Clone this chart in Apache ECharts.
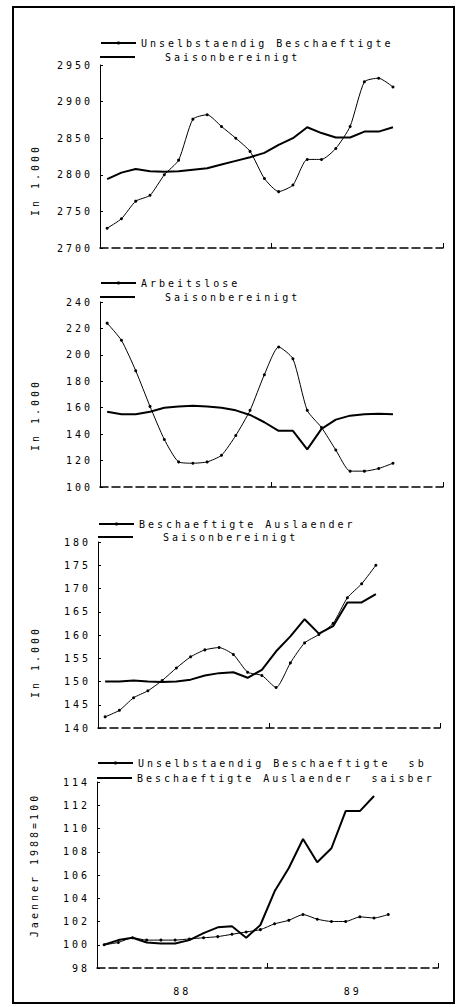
<!DOCTYPE html>
<html><head><meta charset="utf-8">
<script src="https://cdn.jsdelivr.net/npm/echarts@6/dist/echarts.min.js"></script>
<style>
html,body{margin:0;padding:0;background:#fff;}
#c{width:457px;height:1007px;letter-spacing:3px;white-space:pre;}
</style></head><body><div id="c"></div>
<script>
// Monthly data, January 1988 onwards
const months = ['Jan 88','Feb 88','Mar 88','Apr 88','May 88','Jun 88','Jul 88','Aug 88','Sep 88','Oct 88','Nov 88','Dec 88',
                'Jan 89','Feb 89','Mar 89','Apr 89','May 89','Jun 89','Jul 89','Aug 89','Sep 89','Oct 89','Nov 89','Dec 89'];
const yearLabels = ['88','89'];

// Panel 1: Unselbstaendig Beschaeftigte (in 1.000)
const p1Names = ['Unselbstaendig Beschaeftigte','Saisonbereinigt'];
const p1Raw = [2727,2740,2764,2772,2800,2820,2876,2882,2866,2850,2832,2795,2777,2786,2821,2821,2836,2866,2927,2932,2920];
const p1Sa  = [2794,2803,2808,2805,2804,2805,2807,2809,2814,2819,2824,2830,2841,2850,2865,2857,2851,2851,2859,2859,2865];
const p1Ticks = [2700,2950,50];

// Panel 2: Arbeitslose (in 1.000)
const p2Names = ['Arbeitslose','Saisonbereinigt'];
const p2Raw = [224,211,188,161,136,119,118,119,124,139,158,185,206,197,158,145,128,112,112,114,118];
const p2Sa  = [157,155,155,157,160,161,161.5,161,160,158,154.5,149,142.5,142.5,128.5,144,151,154,155,155.5,155];
const p2Ticks = [100,240,20];

// Panel 3: Beschaeftigte Auslaender (in 1.000)
const p3Names = ['Beschaeftigte Auslaender','Saisonbereinigt'];
const p3Raw = [142.4,143.8,146.5,148,150.2,152.9,155.3,156.8,157.3,155.8,152,151.3,148.7,154,158.3,160.1,162.5,168,171,175];
const p3Sa  = [150,150,150.2,150,149.9,150,150.4,151.3,151.8,152,150.8,152.5,156.5,159.7,163.4,160.3,161.9,167,167,168.8];
const p3Ticks = [140,180,5];

// Panel 4: Index, Jaenner 1988 = 100
const p4Names = ['Unselbstaendig Beschaeftigte  sb','Beschaeftigte Auslaender  saisber'];
const p4Emp = [100,100.2,100.6,100.4,100.4,100.4,100.5,100.6,100.7,100.9,101.1,101.3,101.8,102.1,102.6,102.2,102,102,102.4,102.3,102.6];
const p4For = [100,100.4,100.6,100.2,100.1,100.1,100.4,101,101.5,101.6,100.6,101.7,104.6,106.6,109.1,107.1,108.3,111.5,111.5,112.8];
const p4Ticks = [98,114,2];

const yNames = ['In 1.000','In 1.000','In 1.000','Jaenner 1988=100'];

const FONT = 'DejaVu Sans Mono';
const panels = [
  {names:p1Names, a:p1Raw, b:p1Sa, t:p1Ticks, grid:{left:100,top:65,width:343,height:183}, leg:[43,57], pad:25, namePad:[0,47,0,0], nameGap:60},
  {names:p2Names, a:p2Raw, b:p2Sa, t:p2Ticks, grid:{left:100,top:302,width:343,height:185}, leg:[283,297], pad:25, namePad:[0,41,0,0], nameGap:60},
  {names:p3Names, a:p3Raw, b:p3Sa, t:p3Ticks, grid:{left:98,top:542,width:342,height:186}, leg:[524,537], pad:25, namePad:[0,54,0,0], nameGap:58},
  {names:p4Names, a:p4Emp, b:p4For, t:p4Ticks, grid:{left:97,top:782,width:341,height:186}, leg:[763,778], pad:0, namePad:[0,0,0,20], nameGap:58}
];

const toXY = arr => arr.map((v,i)=>[i+0.5, v]);

const grid=[], xAxis=[], yAxis=[], series=[], legend=[];
panels.forEach((p,k)=>{
  grid.push(Object.assign({containLabel:false}, p.grid));
  xAxis.push({
    type:'value', gridIndex:k, min:0, max:months.length, interval:6,
    axisLine:{show:true, lineStyle:{color:'#000', width:1.5, type:[8,4]}},
    axisTick:{show:true, inside:true, length:5, customValues:[0,12,24], lineStyle:{color:'#000', width:1}},
    axisLabel:{show:k===3, customValues:[6,18], margin:18, color:'#000', fontFamily:FONT, fontSize:10,
               formatter:v=> v<12 ? yearLabels[0] : yearLabels[1]},
    splitLine:{show:false}
  });
  yAxis.push({
    type:'value', gridIndex:k, min:p.t[0], max:p.t[1], interval:p.t[2],
    axisLine:{show:true, lineStyle:{color:'#000', width:1}},
    axisTick:{show:true, inside:true, length:3, lineStyle:{color:'#000'}},
    axisLabel:{color:'#000', fontFamily:FONT, fontSize:10, margin:7, formatter:v=>String(v)},
    splitLine:{show:false},
    name:yNames[k], nameLocation:'middle', nameGap:p.nameGap,
    nameTextStyle:{color:'#000', fontFamily:FONT, fontSize:10, padding:p.namePad}
  });
  series.push({
    type:'line', name:p.names[0], xAxisIndex:k, yAxisIndex:k, data:toXY(p.a),
    symbol:'circle', symbolSize:3, showSymbol:true, smooth:0.2,
    lineStyle:{color:'#000', width:1}, itemStyle:{color:'#000'}
  });
  series.push({
    type:'line', name:p.names[1], xAxisIndex:k, yAxisIndex:k, data:toXY(p.b),
    symbol:'none', smooth:false,
    lineStyle:{color:'#000', width:2}, itemStyle:{color:'#000'}
  });
  const leftX = p.grid.left;
  [0,1].forEach(r=>{
    const padW = r===1 ? p.pad : 0;
    legend.push({
      left:leftX, top:p.leg[r]-6, padding:0, itemGap:0, itemWidth:35,
      itemHeight: r===0 ? 4 : 2,
      selectedMode:false,
      data:[ r===0 ? {name:p.names[r]} : {name:p.names[r], icon:'rect'} ],
      formatter: n => padW ? '{p|}' + n : n,
      textStyle:{color:'#000', fontFamily:FONT, fontSize:10, lineHeight:12,
                 rich:{p:{width:padW}}}
    });
  });
});

const chart = echarts.init(document.getElementById('c'), null, {renderer:'svg', width:457, height:1007});
chart.setOption({
  backgroundColor:'#fff',
  animation:false,
  textStyle:{fontFamily:FONT},
  grid, xAxis, yAxis, series, legend,
  graphic:[{type:'rect', silent:true, shape:{x:13,y:7,width:441,height:996},
            style:{fill:'none', stroke:'#000', lineWidth:2}}]
});
</script></body></html>
